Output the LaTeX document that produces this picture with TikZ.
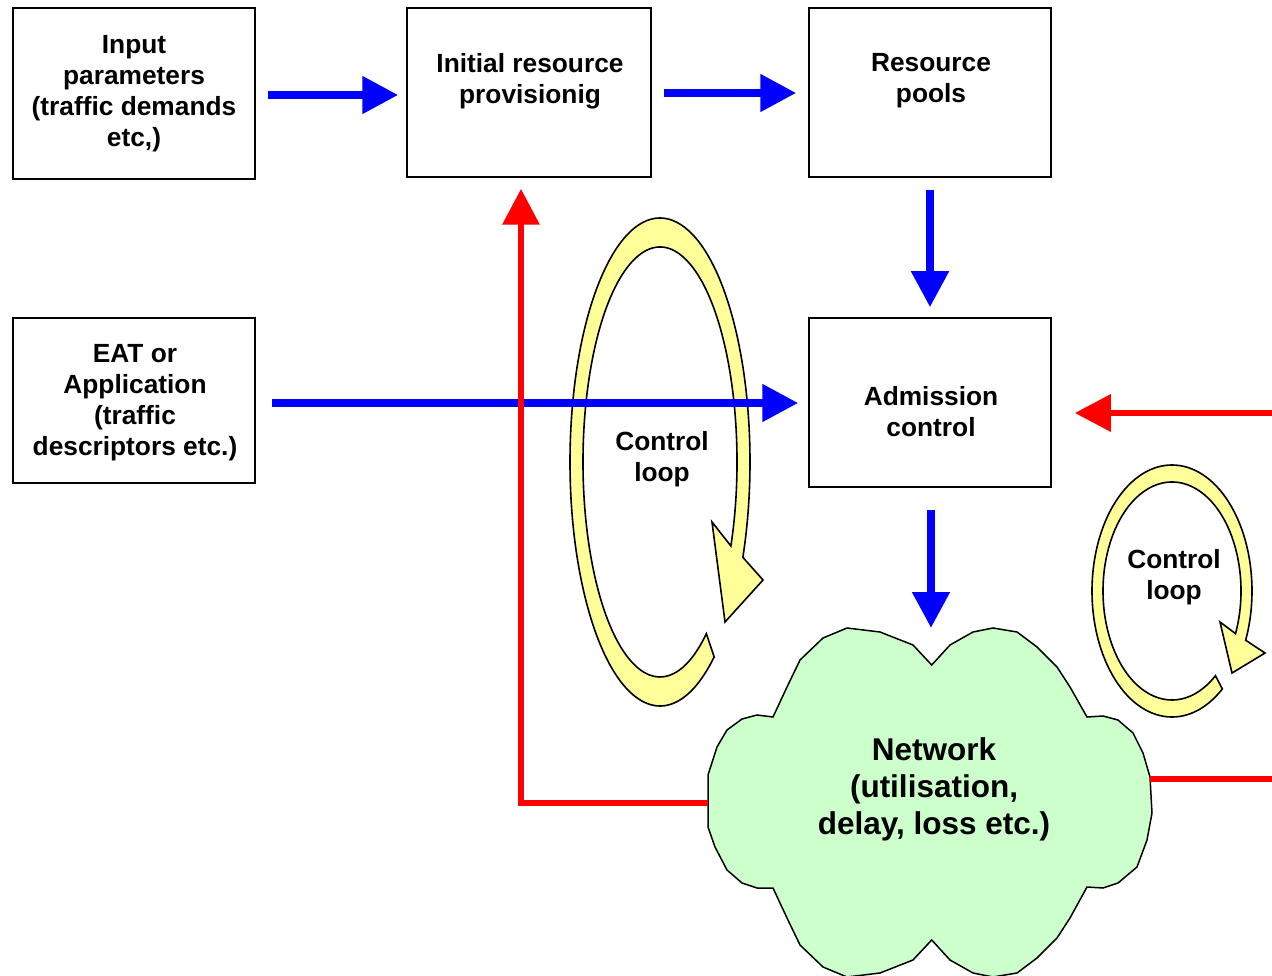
\documentclass[tikz,border=0pt]{standalone}
\usepackage{fontspec}
\setmainfont{Liberation Sans}
\usetikzlibrary{arrows.meta,calc}
\definecolor{cblue}{HTML}{0000FF}
\definecolor{cred}{HTML}{FF0000}
\definecolor{cyel}{HTML}{FFFF99}
\definecolor{cgreen}{HTML}{CCFFCC}
\begin{document}
\begin{tikzpicture}[x=1pt,y=-1pt,
  boxst/.style={draw=black, line width=1.5pt, inner sep=0pt},
  txt/.style={font=\fontsize{26.3}{31}\selectfont\bfseries, align=center, inner sep=0pt},
  nettxt/.style={font=\fontsize{31.5}{37}\selectfont\bfseries, align=center, inner sep=0pt},
  barrow/.style={draw=cblue, line width=8pt, -{Triangle[length=36pt,width=36pt]}},
  rarrow/.style={draw=cred, line width=6.5pt, -{Triangle[length=36pt,width=36pt]}},
  rline/.style={draw=cred, line width=6.5pt},
  loopst/.style={fill=cyel, draw=black, line width=1.6pt, line join=miter},
  cloudst/.style={fill=cgreen, draw=black, line width=1.5pt}
]
\useasboundingbox (0,0) rectangle (1272,976);
\clip (0,0) rectangle (1272,976);

% boxes
\node[boxst, minimum width=242pt, minimum height=171pt] (input) at (134,93.5) {};
\node[boxst, minimum width=244pt, minimum height=169pt] (init) at (529,92.5) {};
\node[boxst, minimum width=242pt, minimum height=169pt] (pools) at (930,92.5) {};
\node[boxst, minimum width=242pt, minimum height=165pt] (eat) at (134,400.5) {};
\node[boxst, minimum width=242pt, minimum height=169pt] (adm) at (930,402.5) {};

\node[txt] (inputT) at (134,93.5) {Input\\parameters\\(traffic demands\\etc,)};
\node[txt] (initT) at (530,81) {Initial resource\\provisionig};
\node[txt] (poolsT) at (931,81) {Resource\\pools};
\node[txt] (eatT) at (135,402.5) {EAT or\\Application\\(traffic\\descriptors etc.)};
\node[txt] (admT) at (931,412) {Admission\\control};

% cloud
\draw[cloudst] (931.7,665) -- (950,645) -- (973,632) -- (993,628) -- (1017,632) -- (1037,647) -- (1057,667) -- (1070,687) -- (1087,717)
  -- (1103,716) -- (1118,720) -- (1133,733) -- (1143,753) -- (1150,777) -- (1152,813) -- (1147,840) -- (1137,867) -- (1118,883) -- (1103,888) -- (1087,887)
  -- (1070,918) -- (1057,938) -- (1037,958) -- (1017,973) -- (993,977) -- (973,973) -- (950,960) -- (931.7,940)
  -- (913,960) -- (880,973) -- (847,977) -- (823,967) -- (800,945) -- (787,918) -- (773,888)
  -- (757,888) -- (742,883) -- (727,870) -- (715,847) -- (708,827) -- (708,775) -- (717,747) -- (727,730) -- (742,719) -- (757,715) -- (773,717)
  -- (787,687) -- (800,660) -- (823,638) -- (847,628) -- (880,632) -- (913,645) -- cycle;
\node[nettxt] (net) at (934,789) {Network\\(utilisation,\\delay, loss etc.)};
\coordinate (netTop) at (931,665);
\coordinate (netW) at (708,803);
\coordinate (netE) at (1150,779);
\coordinate (edgeA) at (1272,413);
\coordinate (edgeB) at (1272,779);

% control loops
\draw[loopst] ($(660,462)+(53:90 and 244)$) arc[start angle=53,end angle=383,x radius=90,y radius=244]
  -- (763,580) -- (725,622) -- (712,522) -- ($(660,462)+(383:77 and 215)$)
  arc[start angle=383,end angle=53,x radius=77,y radius=215] -- cycle;
\node[txt] (loop1) at (662,459.5) {Control\\loop};

\draw[loopst] ($(1172,591)+(51:80 and 126)$) arc[start angle=51,end angle=383,x radius=80,y radius=126]
  -- (1265,653) -- (1232,673) -- (1220,622) -- ($(1172,591)+(383:69 and 109)$)
  arc[start angle=383,end angle=51,x radius=69,y radius=109] -- cycle;
\node[txt] (loop2) at (1174,577) {Control\\loop};

% blue arrows
\draw[barrow] ([xshift=12pt,yshift=-1.5pt]input.east) -- ([xshift=-8pt,yshift=-2.5pt]init.west);
\draw[barrow] ([xshift=12pt,yshift=-0.5pt]init.east) -- ([xshift=-12pt,yshift=-0.5pt]pools.west);
\draw[barrow] ([yshift=-12pt]pools.south) -- ([yshift=10pt]adm.north);
\draw[barrow] ([xshift=16pt,yshift=-2.5pt]eat.east) -- ([xshift=-10pt,yshift=-0.5pt]adm.west);
\draw[barrow] ([xshift=1pt,yshift=-22pt]adm.south) -- ([yshift=37pt]netTop);

% red arrows
\draw[rarrow] (netW) -| ([xshift=-8pt,yshift=-11pt]init.south);
\draw[rarrow, shorten >=23pt] (edgeA) -- (edgeA -| adm.east);
\draw[rline] (netE) -- (edgeB);
\end{tikzpicture}
\end{document}
